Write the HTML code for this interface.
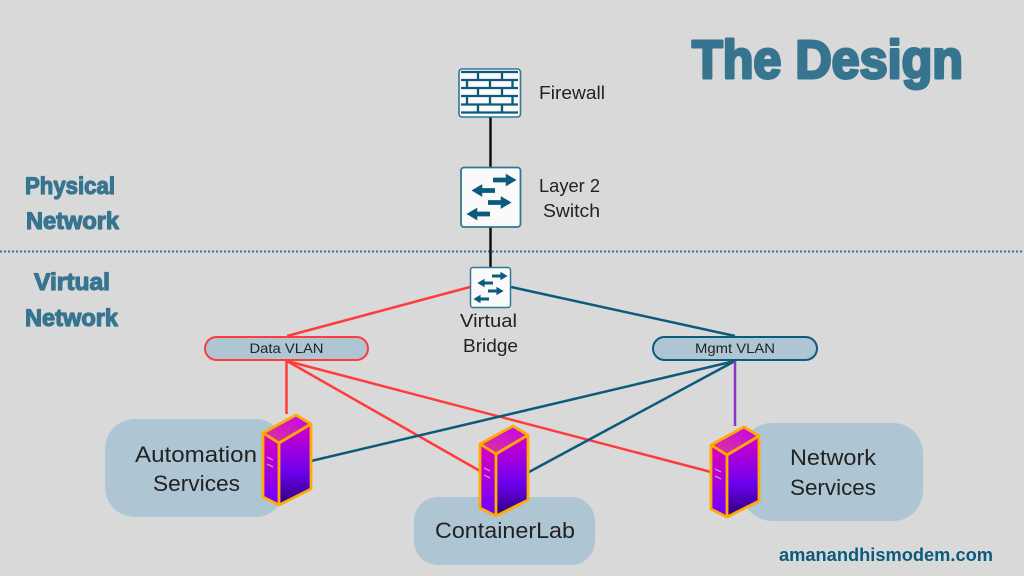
<!DOCTYPE html>
<html><head><meta charset="utf-8"><style>
html,body{margin:0;padding:0;background:#d9d9d9;width:1024px;height:576px;overflow:hidden}
svg{display:block}
text{font-family:"Liberation Sans",sans-serif;fill:#222}
.h{font-weight:bold;fill:#37748f;stroke:#37748f;stroke-linejoin:round}
</style></head><body>
<svg width="1024" height="576" viewBox="0 0 1024 576" xmlns="http://www.w3.org/2000/svg">
<defs>
<linearGradient id="gs" x1="0" y1="0" x2="0" y2="1"><stop offset="0" stop-color="#d800c8"/><stop offset=".6" stop-color="#6a00f0"/><stop offset="1" stop-color="#2c0078"/></linearGradient>
<linearGradient id="gl" x1="0" y1="0" x2="0" y2="1"><stop offset="0" stop-color="#e000c0"/><stop offset="1" stop-color="#6a00ff"/></linearGradient>
<linearGradient id="gt" x1="0" y1="1" x2="1" y2="0"><stop offset="0" stop-color="#e03a90"/><stop offset="1" stop-color="#c000f0"/></linearGradient>
<g id="srv">
<path d="M263 433L296 415L311 424L279 443Z" fill="url(#gt)"/>
<path d="M263 433L279 443V505L263 497Z" fill="url(#gl)"/>
<path d="M279 443L311 424V489L279 505Z" fill="url(#gs)"/>
<path d="M263 433L296 415L311 424L279 443ZM263 433V497L279 505L311 489V424M279 443V505" fill="none" stroke="#ffab00" stroke-width="2.8" stroke-linejoin="round"/>
<path d="M267 457L273 460M267 464L273 467" stroke="#e9a0c0" stroke-width="1.2"/>
</g>
<g id="arrow"><path d="M0 -2.4H13V-6.5L24 0L13 6.5V2.4H0Z" fill="#0c5a7c"/></g>
</defs>

<rect width="1024" height="576" fill="#d9d9d9"/>

<rect x="105" y="419" width="180" height="98" rx="30" fill="#aec6d3"/>
<rect x="414" y="497" width="181" height="68" rx="24" fill="#aec6d3"/>
<rect x="742" y="423" width="181" height="98" rx="30" fill="#aec6d3"/>

<line x1="0" y1="251.500" x2="1024" y2="251.500" stroke="#37748f" stroke-width="2" stroke-dasharray="2 2"/>

<line x1="490.500" y1="117" x2="490.500" y2="168" stroke="#111" stroke-width="2.500"/>
<line x1="490.500" y1="227" x2="490.500" y2="268" stroke="#111" stroke-width="2.500"/>

<g stroke-width="2.500" fill="none">
<line x1="470" y1="287" x2="287" y2="336" stroke="#ff3b3b"/>
<line x1="511" y1="287" x2="735" y2="336" stroke="#0c5a7c"/>
<line x1="286.500" y1="361" x2="286.500" y2="414" stroke="#ff3b3b"/>
<line x1="287" y1="361" x2="480" y2="471" stroke="#ff3b3b"/>
<line x1="287" y1="361" x2="711" y2="472" stroke="#ff3b3b"/>
<line x1="735" y1="361" x2="311" y2="461" stroke="#0c5a7c"/>
<line x1="735" y1="361" x2="529" y2="472" stroke="#0c5a7c"/>
<line x1="735" y1="361" x2="735" y2="426" stroke="#8a35c8"/>
</g>

<rect x="205" y="337" width="163" height="23" rx="11.500" fill="#aec6d3" stroke="#ff3b3b" stroke-width="2"/>
<rect x="653" y="337" width="164" height="23" rx="11.500" fill="#aec6d3" stroke="#0c5a7c" stroke-width="2"/>
<text x="286.500" y="353" font-size="14" text-anchor="middle" textLength="74" lengthAdjust="spacingAndGlyphs">Data VLAN</text>
<text x="735" y="353" font-size="14" text-anchor="middle" textLength="80" lengthAdjust="spacingAndGlyphs">Mgmt VLAN</text>

<!-- firewall -->
<rect x="459" y="69" width="61.500" height="48" rx="3" fill="#fafafa" stroke="#2f7896" stroke-width="1.600"/>
<g stroke="#0c5a7c" stroke-width="2.300" fill="none">
<path d="M461 72H518M461 80H518M461 88H518M461 96H518M461 104.500H518M461 112.500H518"/>
<path d="M478 72V80M502 72V80M490 80V88M512.500 80V88M467 80V88M478 88V96M502 88V96M467 96V104M490 96V104M512.500 96V104M478 104V112M502 104V112"/>
</g>

<!-- L2 switch -->
<rect x="461" y="167.500" width="59.500" height="59.500" rx="3" fill="#fafafa" stroke="#2f7896" stroke-width="1.800"/>
<use href="#arrow" transform="translate(493 180) scale(.98)"/>
<use href="#arrow" transform="translate(495 190.500) scale(-.98 .98)"/>
<use href="#arrow" transform="translate(488 202.500) scale(.98)"/>
<use href="#arrow" transform="translate(490 214) scale(-.98 .98)"/>

<!-- virtual bridge -->
<rect x="470.500" y="267.500" width="40" height="40" rx="2.500" fill="#fafafa" stroke="#2f7896" stroke-width="1.500"/>
<use href="#arrow" transform="translate(492 276) scale(.65)"/>
<use href="#arrow" transform="translate(493 283) scale(-.65 .65)"/>
<use href="#arrow" transform="translate(488 291) scale(.65)"/>
<use href="#arrow" transform="translate(489 299) scale(-.65 .65)"/>

<use href="#srv"/>
<use href="#srv" transform="translate(217 11)"/>
<use href="#srv" transform="translate(448 12)"/>

<g font-size="18.500">
<text x="539" y="99" textLength="66" lengthAdjust="spacingAndGlyphs">Firewall</text>
<text x="539" y="192" textLength="61" lengthAdjust="spacingAndGlyphs">Layer 2</text>
<text x="543" y="217" textLength="57" lengthAdjust="spacingAndGlyphs">Switch</text>
<text x="460" y="327" textLength="57" lengthAdjust="spacingAndGlyphs">Virtual</text>
<text x="463" y="352" textLength="55" lengthAdjust="spacingAndGlyphs">Bridge</text>
</g>
<g font-size="22.500">
<text x="135" y="462" textLength="122" lengthAdjust="spacingAndGlyphs">Automation</text>
<text x="153" y="491" textLength="87" lengthAdjust="spacingAndGlyphs">Services</text>
<text x="435" y="538" textLength="140" lengthAdjust="spacingAndGlyphs">ContainerLab</text>
<text x="790" y="465" textLength="86" lengthAdjust="spacingAndGlyphs">Network</text>
<text x="790" y="495" textLength="86" lengthAdjust="spacingAndGlyphs">Services</text>
</g>

<text class="h" x="692" y="78" font-size="54" stroke-width="3" textLength="271" lengthAdjust="spacingAndGlyphs">The Design</text>
<g font-size="24" stroke-width="1.200">
<text class="h" x="25" y="194" textLength="90" lengthAdjust="spacingAndGlyphs">Physical</text>
<text class="h" x="26" y="229" textLength="93" lengthAdjust="spacingAndGlyphs">Network</text>
<text class="h" x="34" y="290" textLength="76" lengthAdjust="spacingAndGlyphs">Virtual</text>
<text class="h" x="25" y="326" textLength="93" lengthAdjust="spacingAndGlyphs">Network</text>
</g>
<text x="779" y="561" font-size="18.500" font-weight="bold" style="fill:#0c5a7c" textLength="214" lengthAdjust="spacingAndGlyphs">amanandhismodem.com</text>
</svg>
</body></html>
